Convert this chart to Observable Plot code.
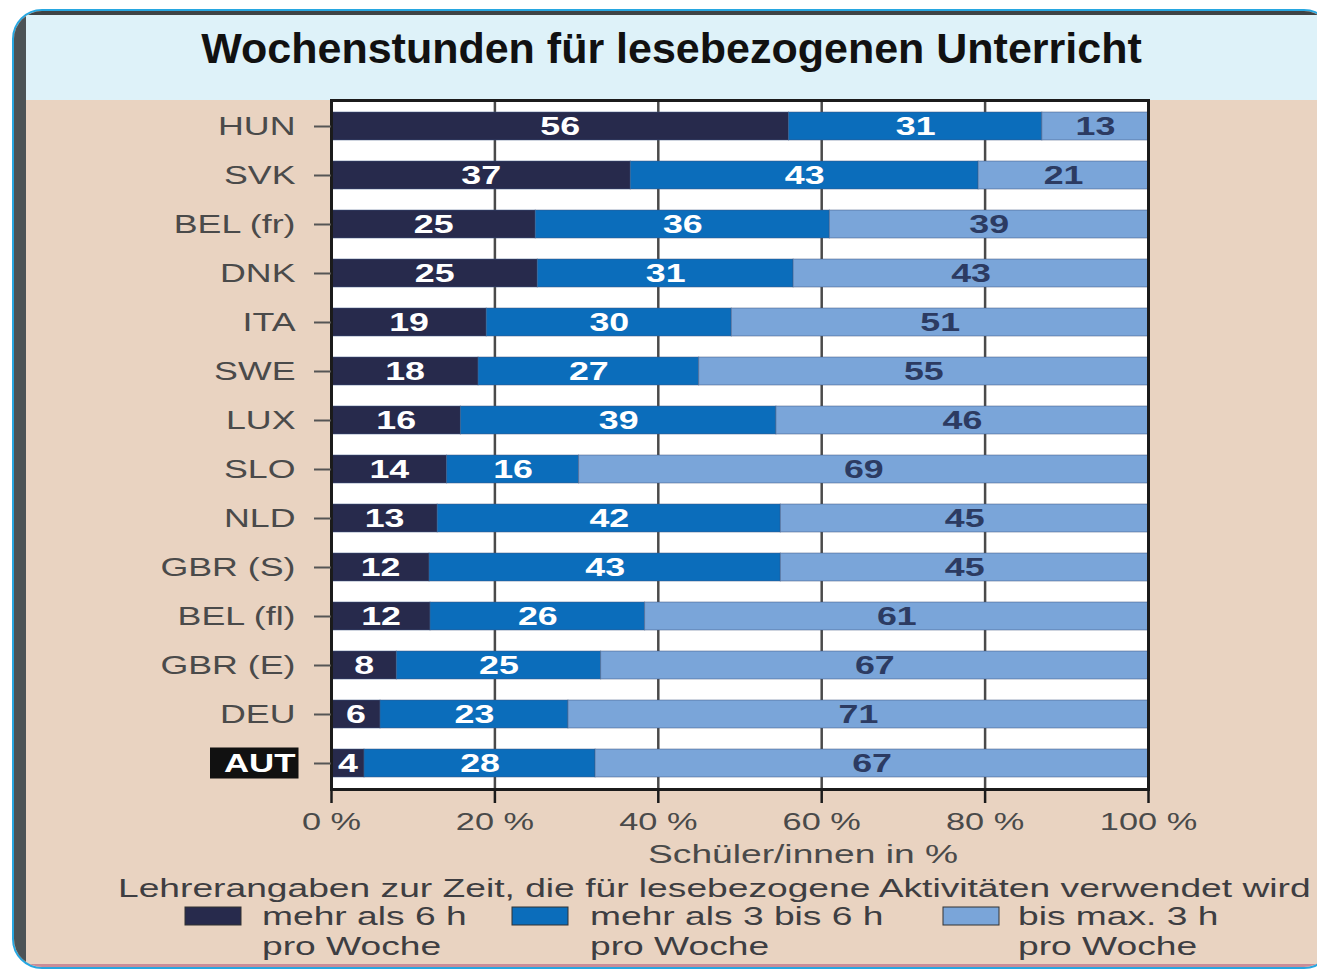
<!DOCTYPE html>
<html><head><meta charset="utf-8">
<script src="https://cdn.jsdelivr.net/npm/d3@7"></script>
<script src="https://cdn.jsdelivr.net/npm/@observablehq/plot@0.6"></script>
<style>
html,body{margin:0;padding:0;background:#fff;width:1317px;height:971px;overflow:hidden;font-family:"Liberation Sans",Arial,sans-serif;}
#frame{position:absolute;left:12px;top:9px;width:1322px;height:960px;border:2px solid #27a7e1;border-radius:30px;overflow:hidden;background:#e9d3c1;box-sizing:border-box;}
#leftstrip{position:absolute;left:0;top:0;bottom:0;width:12px;background:#4c5356;}
#topstrip{position:absolute;left:0;right:0;top:0;height:4px;background:#3e4345;}
#bottomstrip{position:absolute;left:0;right:0;bottom:0;height:3px;background:#c98c98;}
#band{position:absolute;left:12px;right:0;top:4px;height:85px;background:#def2f9;}
#title{position:absolute;left:26px;width:1291px;top:15px;height:66px;display:flex;align-items:center;justify-content:center;font-weight:bold;font-size:43px;color:#111;}
#chart{position:absolute;left:0;top:100px;}
#legend{position:absolute;left:0;top:860px;}
</style>
</head><body>
<div id="frame"><div id="band"></div><div id="leftstrip"></div><div id="topstrip"></div><div id="bottomstrip"></div></div>
<div id="title">Wochenstunden für lesebezogenen Unterricht</div>
<div id="chart"></div>
<svg id="legend" width="1317" height="111"></svg>
<script>
const countries = ["HUN","SVK","BEL (fr)","DNK","ITA","SWE","LUX","SLO","NLD","GBR (S)","BEL (fl)","GBR (E)","DEU","AUT"];
const over6h   = [56,37,25,25,19,18,16,14,13,12,12, 8, 6, 4];
const from3to6 = [31,43,36,31,30,27,39,16,42,43,26,25,23,28];
const upTo3h   = [13,21,39,43,51,55,46,69,45,45,61,67,71,67];
const categories = ["mehr als 6 h\npro Woche","mehr als 3 bis 6 h\npro Woche","bis max. 3 h\npro Woche"];
const colors = ["#272a4c","#0b6dbb","#7aa5d9"];
const labelColors = ["#ffffff","#ffffff","#2c3b62"];
const xTicks = [0,20,40,60,80,100];
const gridTicks = [20,40,60,80];
const xLabel = "Schüler/innen in %";
const caption = "Lehrerangaben zur Zeit, die für lesebezogene Aktivitäten verwendet wird";
const highlight = "AUT";
const STRETCH = 1.43;

const series = [over6h, from3to6, upTo3h];
const data = [];
countries.forEach((c, i) => series.forEach((s, j) => data.push({country: c, cat: categories[j], idx: j, value: s[i]})));

const stackOpts = extra => Plot.stackX({x: "value", y: "country", z: "cat", offset: "normalize", ...extra});

const plot = Plot.plot({
  width: 1317, height: 775,
  marginLeft: 331, marginRight: 169, marginTop: 0, marginBottom: 86,
  style: {background: "transparent", fontFamily: "'Liberation Sans', Arial, sans-serif", overflow: "visible"},
  x: {domain: [0, 1]},
  y: {domain: countries, paddingInner: 0.43, paddingOuter: 0.215, align: 0.5},
  marks: [
    Plot.frame({fill: "white"}),
    Plot.gridX(gridTicks.map(d => d / 100), {stroke: "#4a4a4a", strokeOpacity: 1, strokeWidth: 2.5}),
    Plot.barX(data, stackOpts({fill: d => colors[d.idx], stroke: "#3d5680", strokeOpacity: 0.5, strokeWidth: 1})),
    Plot.text(data, stackOpts({text: d => String(d.value), fill: d => labelColors[d.idx], fontSize: 25, fontWeight: "bold"})),
    Plot.frame({stroke: "#1b1b1b", strokeWidth: 3}),
    Plot.axisY({tickSize: 17, tickPadding: 19, fontSize: 25, stroke: "#555", fill: "#4a4a4a", strokeWidth: 2, label: null}),
    Plot.axisX({ticks: xTicks.map(d => d / 100), tickFormat: d => Math.round(d * 100) + " %", tickSize: 14, tickPadding: 9, fontSize: 24, stroke: "#1b1b1b", strokeWidth: 2.5, fill: "#4a4a4a", label: null}),
    Plot.text([xLabel], {text: d => d, frameAnchor: "bottom", dx: 63, dy: 73, fontSize: 26, fill: "#4a4a4a"})
  ]
});
document.getElementById("chart").appendChild(plot);

function stretch(node, k) {
  node.querySelectorAll("text").forEach(t => {
    if (t.querySelector("tspan")) return;
    const w = t.getComputedTextLength();
    if (w > 0) { t.setAttribute("textLength", (w * k).toFixed(1)); t.setAttribute("lengthAdjust", "spacingAndGlyphs"); }
  });
}
stretch(plot, STRETCH);

// highlight AUT label with a black box
d3.select(plot).selectAll("text").filter(function() { return this.textContent === highlight; }).each(function() {
  const t = d3.select(this);
  t.attr("fill", "#fff").attr("font-weight", "bold").style("fill", "#fff");
  const bb = this.getBBox();
  d3.select(this.parentNode).insert("rect", () => this)
    .attr("transform", t.attr("transform"))
    .attr("x", bb.x - 14).attr("y", bb.y - 1).attr("width", bb.width + 17).attr("height", bb.height + 3)
    .attr("fill", "#111");
});

// caption + legend
const lg = d3.select("#legend").style("font-family", "'Liberation Sans', Arial, sans-serif");
lg.append("text").attr("x", 118).attr("y", 37).attr("font-size", 26).attr("fill", "#3e3e42").text(caption);
const swX = [185, 512, 943];
const txX = [262, 590, 1018];
categories.forEach((c, j) => {
  lg.append("rect").attr("x", swX[j]).attr("y", 47).attr("width", 56).attr("height", 18)
    .attr("fill", colors[j]).attr("stroke", "#333").attr("stroke-width", 1);
  c.split("\n").forEach((line, k) => {
    lg.append("text").attr("x", txX[j]).attr("y", 65 + k * 30).attr("font-size", 26).attr("fill", "#3e3e42").text(line);
  });
});
stretch(document.getElementById("legend"), STRETCH);
</script>
</body></html>
